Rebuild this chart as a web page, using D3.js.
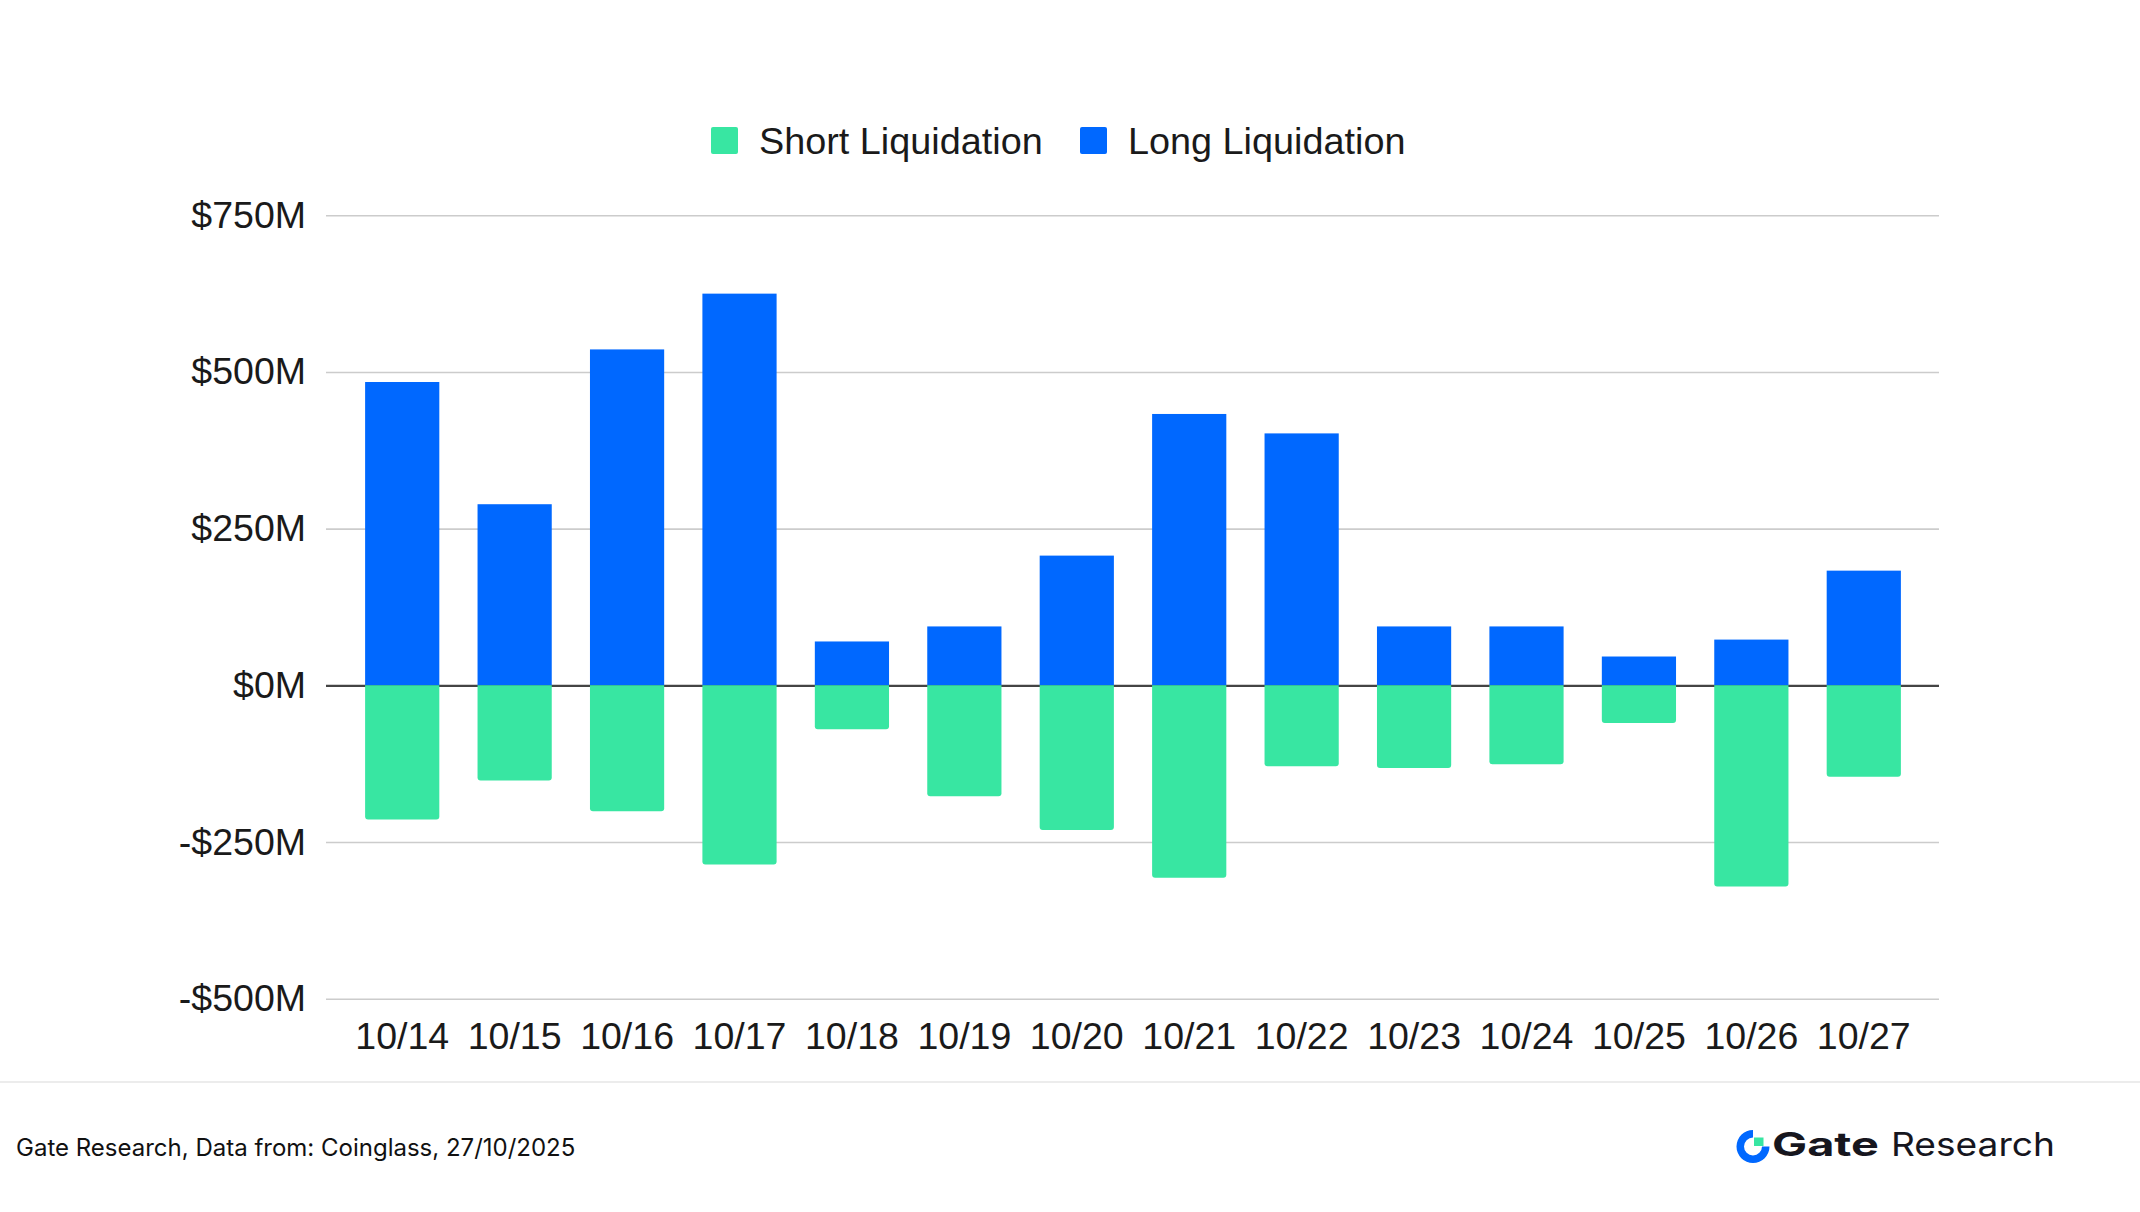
<!DOCTYPE html>
<html>
<head>
    <meta charset="UTF-8" />
    <title>Liquidations</title>
    <script src="https://cdn.jsdelivr.net/npm/d3@7/dist/d3.min.js"></script>
    <style>
        body { margin: 0; background: #fff; }
        svg { display: block; }
        .axis text { font-family: "Liberation Sans", Arial, sans-serif; font-size: 37.5px; fill: #1a1a1a; }
        .axis path { display: none; }
    </style>
</head>
<body>
<script>
    // donnees (millions de $)
    const dates = ["10/14", "10/15", "10/16", "10/17", "10/18", "10/19", "10/20",
                   "10/21", "10/22", "10/23", "10/24", "10/25", "10/26", "10/27"];
    const longLiq = [484, 289, 536, 625, 70, 94, 207, 433, 402, 94, 94, 46, 73, 183];
    const shortLiq = [-214, -152, -201, -286, -70, -177, -231, -307, -129, -132, -126, -60, -321, -146];
    const yTicks = [-500, -250, 0, 250, 500, 750];
    const seriesNames = ["Short Liquidation", "Long Liquidation"];
    const seriesColors = ["#38e6a2", "#0068ff"];

    const width = 2140, height = 1212;
    const plot = { left: 326, right: 1939, top: 215.3, bottom: 998.7 };

    const svg = d3.select("body").append("svg")
        .attr("width", width)
        .attr("height", height);

    const x = d3.scaleBand()
        .domain(dates)
        .range([346, 1920])
        .paddingInner(0.34)
        .paddingOuter(0.17);

    const y = d3.scaleLinear()
        .domain([-500, 750])
        .range([plot.bottom, plot.top]);

    // grille + labels de l'axe y
    const yAxis = svg.append("g")
        .attr("class", "axis")
        .attr("transform", `translate(${plot.left},0)`)
        .call(d3.axisLeft(y)
            .tickValues(yTicks)
            .tickSize(-(plot.right - plot.left))
            .tickPadding(20)
            .tickFormat(d => (d < 0 ? "-$" : "$") + Math.abs(d) + "M"));
    yAxis.selectAll(".tick line")
        .attr("stroke", d => d === 0 ? "#444" : "#cccccc")
        .attr("stroke-width", d => d === 0 ? 2.2 : 1.6);
    yAxis.selectAll(".tick text").attr("dy", "0.32em");

    // axe x (labels seulement)
    svg.append("g")
        .attr("class", "axis")
        .attr("transform", `translate(0,${plot.bottom})`)
        .call(d3.axisBottom(x).tickSize(0).tickPadding(24));

    // barres longues (positives)
    svg.append("g").selectAll("rect")
        .data(longLiq)
        .join("rect")
        .attr("x", (d, i) => x(dates[i]))
        .attr("width", x.bandwidth())
        .attr("y", d => y(d))
        .attr("height", d => y(0) - y(d))
        .attr("fill", seriesColors[1]);

    // barres courtes (negatives), coins du bas arrondis
    const r = 3;
    svg.append("g").selectAll("path")
        .data(shortLiq)
        .join("path")
        .attr("d", (d, i) => {
            const x0 = x(dates[i]), x1 = x0 + x.bandwidth();
            const y0 = y(0), y1 = y(d);
            return `M${x0},${y0}H${x1}V${y1 - r}Q${x1},${y1} ${x1 - r},${y1}` +
                   `H${x0 + r}Q${x0},${y1} ${x0},${y1 - r}Z`;
        })
        .attr("fill", seriesColors[0]);

    // legende
    const legendX = [711, 1080];
    const legend = svg.append("g").selectAll("g")
        .data(seriesNames)
        .join("g")
        .attr("transform", (d, i) => `translate(${legendX[i]},127)`);
    legend.append("rect")
        .attr("width", 27).attr("height", 27).attr("rx", 2)
        .attr("fill", (d, i) => seriesColors[i]);
    legend.append("text")
        .attr("x", 48).attr("y", 13.5).attr("dy", "0.35em")
        .style("font-family", "'Liberation Sans', Arial, sans-serif")
        .style("font-size", "37.8px")
        .style("fill", "#1a1a1a")
        .text(d => d);

    // pied de page
    svg.append("line")
        .attr("x1", 0).attr("x2", width)
        .attr("y1", 1082).attr("y2", 1082)
        .attr("stroke", "#e6e6e6").attr("stroke-width", 1.5);

    svg.append("text")
        .attr("x", 16).attr("y", 1156)
        .style("font-family", "Inter, sans-serif")
        .style("font-size", "24px")
        .style("fill", "#111")
        .text("Gate Research, Data from: Coinglass, 27/10/2025");

    // logo
    const logo = svg.append("g").attr("transform", "translate(1753,1146.5)");
    logo.append("path")
        .attr("d", d3.arc()({ innerRadius: 9, outerRadius: 16.5, startAngle: Math.PI / 2, endAngle: 2 * Math.PI }))
        .attr("fill", "#0068ff");
    logo.append("rect")
        .attr("x", 1).attr("y", -9).attr("width", 9.5).attr("height", 8.5)
        .attr("fill", "#38e6a2");

    svg.append("text")
        .attr("x", 1772).attr("y", 1156)
        .attr("textLength", 107).attr("lengthAdjust", "spacingAndGlyphs")
        .style("font-family", "Inter, sans-serif")
        .style("font-weight", 700)
        .style("font-size", "33px")
        .style("fill", "#16161e")
        .text("Gate");
    svg.append("text")
        .attr("x", 1891).attr("y", 1156)
        .attr("textLength", 164).attr("lengthAdjust", "spacingAndGlyphs")
        .style("font-family", "Inter, sans-serif")
        .style("font-size", "33px")
        .style("fill", "#16161e")
        .text("Research");
</script>
</body>
</html>
